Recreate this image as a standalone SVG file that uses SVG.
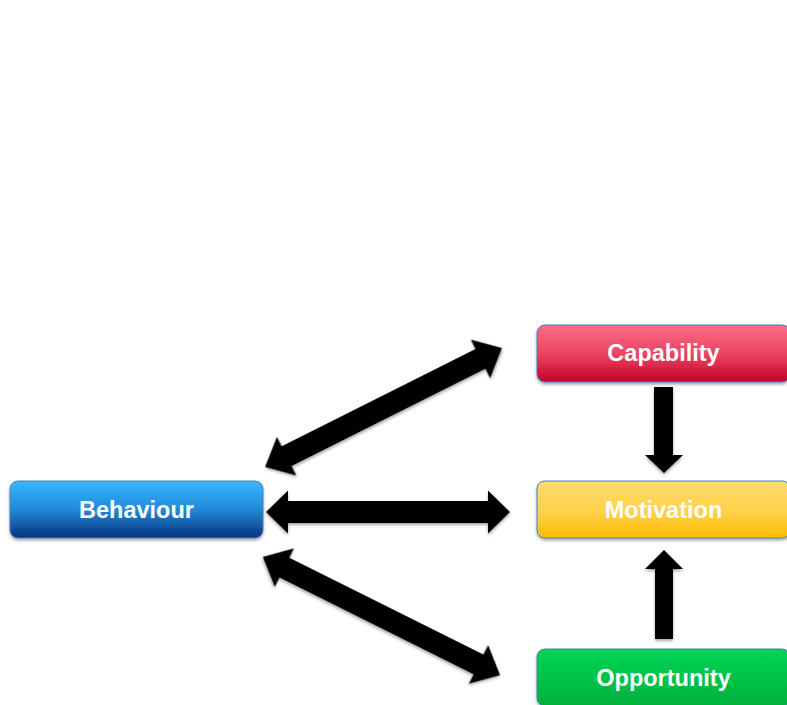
<svg xmlns="http://www.w3.org/2000/svg" width="787" height="705" viewBox="0 0 787 705">
  <defs>
    <linearGradient id="gBlue" x1="0" y1="0" x2="0" y2="1">
      <stop offset="0" stop-color="#36b8fd"/>
      <stop offset="0.5" stop-color="#2389da"/>
      <stop offset="1" stop-color="#06327a"/>
    </linearGradient>
    <linearGradient id="gRed" x1="0" y1="0" x2="0" y2="1">
      <stop offset="0" stop-color="#ff6d88"/>
      <stop offset="0.55" stop-color="#e83f5c"/>
      <stop offset="1" stop-color="#c3002a"/>
    </linearGradient>
    <linearGradient id="gYellow" x1="0" y1="0" x2="0" y2="1">
      <stop offset="0" stop-color="#ffdb6e"/>
      <stop offset="0.55" stop-color="#ffd04a"/>
      <stop offset="1" stop-color="#ffbc00"/>
    </linearGradient>
    <linearGradient id="gGreen" x1="0" y1="0" x2="0" y2="1">
      <stop offset="0" stop-color="#00d456"/>
      <stop offset="1" stop-color="#00b13c"/>
    </linearGradient>
    <filter id="shadow" x="-10%" y="-20%" width="120%" height="150%">
      <feDropShadow dx="0" dy="2" stdDeviation="1.5" flood-color="#000" flood-opacity="0.35"/>
    </filter>
    <polygon id="dbl244" points="-122,0 -100,-21.5 -100,-11 100,-11 100,-21.5 122,0 100,21.5 100,11 -100,11 -100,21.5"/>
    <polygon id="dbl265" points="-132.5,0 -108.5,-21.5 -108.5,-11 108.5,-11 108.5,-21.5 132.5,0 108.5,21.5 108.5,11 -108.5,11 -108.5,21.5"/>
  </defs>
  <style>
    .box { stroke: #4a80b8; stroke-width: 1; filter: url(#shadow); }
    .lbl { font-family: "Liberation Sans", Arial, sans-serif; font-weight: bold; font-size: 23.5px; fill: #ffffff; text-anchor: middle; }
    .arrow { fill: #000000; filter: url(#shadow); }
  </style>
  <rect width="787" height="705" fill="#ffffff"/>

  <g id="connectors">
    <use href="#dbl265" class="arrow" transform="translate(383.5,407.5) rotate(-26.66)"/>
    <use href="#dbl244" class="arrow" transform="translate(388,512)"/>
    <use href="#dbl265" class="arrow" transform="translate(381.5,616) rotate(26.5)"/>
    <polygon class="arrow" points="654,387 673,387 673,455 683,455 664,473 645,455 654,455"/>
    <polygon class="arrow" points="655,639 673,639 673,569 683,569 664,550 645,569 655,569"/>
  </g>

  <g id="behaviour">
    <rect class="box" x="10" y="481" width="253" height="57" rx="8" fill="url(#gBlue)"/>
    <text class="lbl" x="136.5" y="518">Behaviour</text>
  </g>
  <g id="capability">
    <rect class="box" x="537" y="325" width="253" height="57" rx="8" fill="url(#gRed)"/>
    <text class="lbl" x="663.5" y="361">Capability</text>
  </g>
  <g id="motivation">
    <rect class="box" x="537" y="481" width="253" height="57" rx="8" fill="url(#gYellow)"/>
    <text class="lbl" x="663.5" y="518">Motivation</text>
  </g>
  <g id="opportunity">
    <rect class="box" x="537" y="649" width="253" height="57" rx="8" fill="url(#gGreen)"/>
    <text class="lbl" x="663.5" y="686">Opportunity</text>
  </g>
</svg>
